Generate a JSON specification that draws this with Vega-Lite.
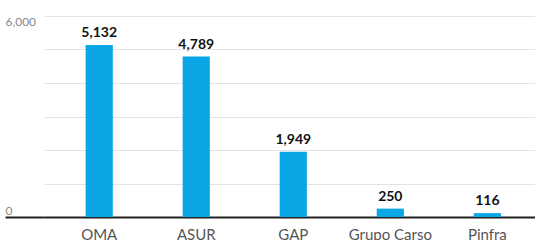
{
  "$schema": "https://vega.github.io/schema/vega-lite/v6.json",
  "width": 491,
  "height": 201,
  "autosize": {"type": "none"},
  "padding": {"left": 44, "top": 16, "right": 0, "bottom": 23},
  "background": "white",
  "data": {
    "values": [
      {"company": "OMA", "value": 5132},
      {"company": "ASUR", "value": 4789},
      {"company": "GAP", "value": 1949},
      {"company": "Grupo Carso", "value": 250},
      {"company": "Pinfra", "value": 116}
    ]
  },
  "encoding": {
    "x": {
      "field": "company",
      "type": "nominal",
      "sort": null,
      "scale": {"paddingInner": 0.72, "paddingOuter": 0.39, "align": 0.55},
      "axis": {
        "title": null,
        "labelAngle": 0,
        "ticks": false,
        "domainColor": "#222222",
        "domainWidth": 2,
        "labelPadding": 10,
        "labelFont": "Lato",
        "labelFontSize": 15,
        "labelColor": "#555555"
      }
    },
    "y": {
      "field": "value",
      "type": "quantitative",
      "scale": {"domain": [0, 6000], "nice": false},
      "axis": {
        "title": null,
        "values": [0, 1000, 2000, 3000, 4000, 5000, 6000],
        "grid": true,
        "gridColor": "#e3e3e3",
        "gridWidth": 1,
        "domain": false,
        "tickSize": 39,
        "tickWidth": 2,
        "tickColor": {"condition": {"test": "datum.value === 0", "value": "#222222"}, "value": "transparent"},
        "labelAlign": "left",
        "labelPadding": 0,
        "labelFlush": true,
        "labelFont": "Lato",
        "labelFontSize": 12,
        "labelColor": "#8a8a8a",
        "labelExpr": "datum.value === 0 || datum.value === 6000 ? format(datum.value, ',') : ''"
      }
    }
  },
  "layer": [
    {"mark": {"type": "bar", "color": "#0aa6e6"}},
    {
      "mark": {"type": "text", "baseline": "bottom", "dy": -5, "font": "Lato", "fontWeight": "bold", "fontSize": 14, "color": "#111111"},
      "encoding": {"text": {"field": "value", "type": "quantitative", "format": ","}}
    }
  ],
  "config": {"view": {"stroke": null}}
}
